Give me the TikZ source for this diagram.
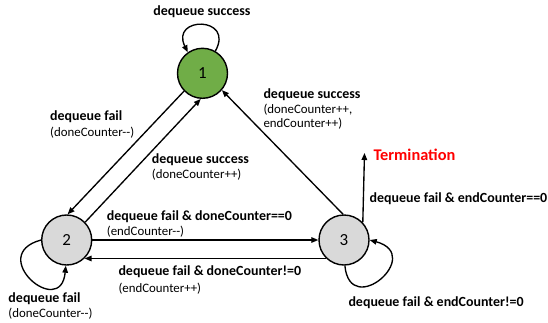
\documentclass[tikz,border=0pt]{standalone}
\usepackage{fontspec}
\setmainfont{Carlito}
\usetikzlibrary{arrows.meta}
\definecolor{stategreen}{HTML}{70AD47}
\definecolor{stategray}{HTML}{D9D9D9}
% two hyphens without the en-dash ligature
\newcommand\dd{-\kern0pt-}
\newcommand\lblhead[1]{{\bfseries\fontsize{14}{15.5}\selectfont #1}}
\begin{document}
\begin{tikzpicture}[x=1bp,y=1bp,
  state/.style={circle,draw,line width=1.4bp,minimum size=50bp,inner sep=0pt,
    font=\fontsize{17}{19}\selectfont},
  edge/.style={line width=1.35bp,-{Triangle[length=7bp,width=5.5bp]}},
  lab/.style={anchor=west,inner sep=0pt,align=left,
    font=\fontsize{12.9}{15.5}\selectfont}]
\useasboundingbox (0,0) rectangle (548,322);

% states
\node[state,fill=stategreen] (n1) at (202.5,248.7) {1};
\node[state,fill=stategray]  (n2) at (66.7,82) {2};
\node[state,fill=stategray]  (n3) at (344,82) {3};
\coordinate (term) at (364.5,169);

% transitions
\draw[edge] (n1.224) -- (n2.88);
\draw[edge] (n2.44) -- (n1.266);
\draw[edge] (n3.92) -- (n1.-41);
\draw[edge] (n2.0) -- (n3.180);
\draw[edge] (n3.226) -- (n2.-46);
\draw[edge] (n3.43) -- (term);

% self loops
\draw[edge] (n1.60) .. controls ([shift={(32.5,57.3)}]n1.center)
  and ([shift={(-32.5,57.3)}]n1.center) .. (n1.125);
\draw[edge] (n2.180) .. controls ([shift={(-81,-15)}]n2.center)
  and ([shift={(-6,-80)}]n2.center) .. (n2.-92);
\draw[edge] (n3.-88) .. controls ([shift={(6,-80)}]n3.center)
  and ([shift={(81,-15)}]n3.center) .. (n3.0);

% labels
\node[lab,anchor=center] (ltop) at (202,310.3) {\lblhead{dequeue success}};
\node[lab] (l12) at (50,197.5) {\lblhead{dequeue fail}\\(doneCounter\dd)};
\node[lab] (l21) at (151.7,154.8) {\lblhead{dequeue success}\\(doneCounter++)};
\node[lab] (l31) at (263.3,213.3) {\lblhead{dequeue success}\\(doneCounter++,\\[-1.5bp]endCounter++)};
\node[lab,text=red,font=\fontsize{16.4}{18}\selectfont\bfseries] (lterm) at (373.3,167) {Termination};
\node[lab] (l3t) at (369.5,123.7) {\lblhead{dequeue fail \& endCounter==0}};
\node[lab] (l23) at (106.7,98.1) {\lblhead{dequeue fail \& doneCounter==0}\\(endCounter\dd)};
\node[lab] (l32) at (118.3,42) {\lblhead{dequeue fail \& doneCounter!=0}\\[2.5bp](endCounter++)};
\node[lab] (l22) at (8.3,16.2) {\lblhead{dequeue fail}\\(doneCounter\dd)};
\node[lab] (l33) at (348.3,19.3) {\lblhead{dequeue fail \& endCounter!=0}};
\end{tikzpicture}
\end{document}
